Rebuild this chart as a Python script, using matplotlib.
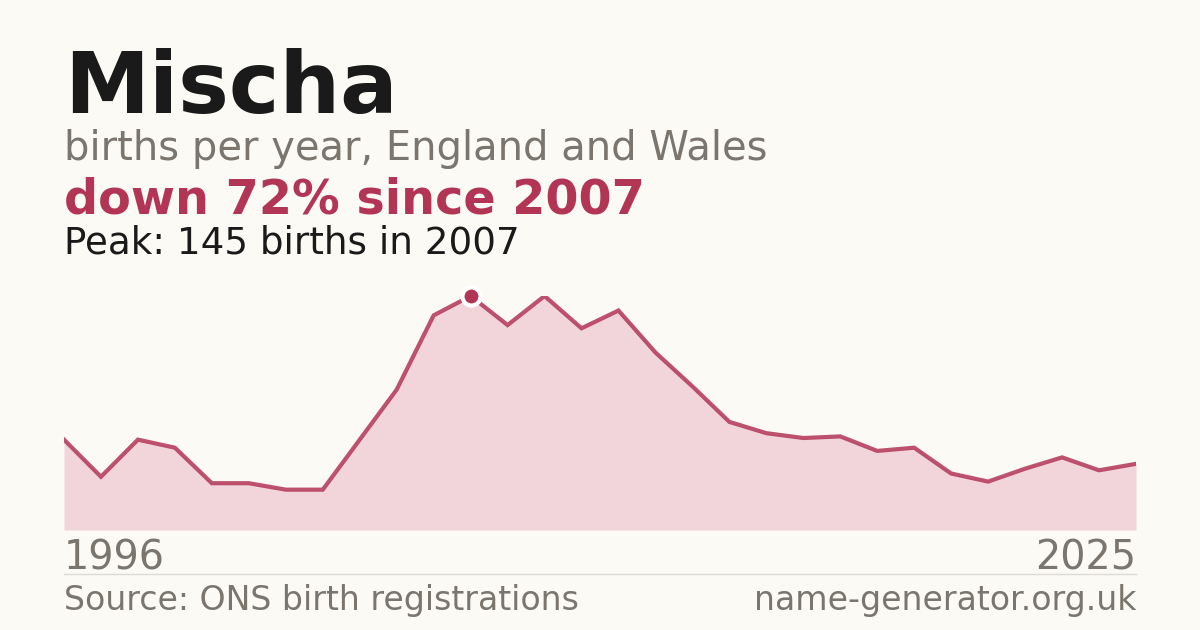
import matplotlib
matplotlib.use("Agg")
import matplotlib.pyplot as plt
import numpy as np

years = list(range(1996, 2026))
births = [56, 33, 56, 51, 29, 29, 25, 25, 56, 87, 133, 145, 127, 145, 125, 136,
          110, 89, 67, 60, 57, 58, 49, 51, 35, 30, 38, 45, 37, 41]

title = "Mischa"
subtitle = "births per year, England and Wales"
headline = "down 72% since 2007"
peak_text = "Peak: 145 births in 2007"
source = "Source: ONS birth registrations"
site = "name-generator.org.uk"

BG = "#fbfaf5"
RED = "#b33556"
FILL = "#f2d5da"
GREY = "#7a756d"
DARK = "#1a1a1a"

W, H = 1200, 630
fig = plt.figure(figsize=(12, 6.3), dpi=100, facecolor=BG)

def fx(px):
    return px / W

def fy(py):
    return 1 - py / H

ax = fig.add_axes([fx(64), fy(530), fx(1136) - fx(64), fy(296) - fy(530)])
ax.set_facecolor("none")
ax.fill_between(years, births, 0, color=FILL, lw=0)
ax.plot(years, births, color=RED, lw=3.0, solid_joinstyle="miter", alpha=0.85)
pk = int(np.argmax(births))
ax.plot([years[pk]], [births[pk]], "o", ms=13, color=RED, mec="white", mew=3, clip_on=False, zorder=5)
ax.set_xlim(years[0], years[-1])
ax.set_ylim(0, max(births))
ax.axis("off")

fig.text(fx(64), fy(113), title, fontsize=61.5, fontweight="bold", color=DARK, va="baseline", ha="left")
fig.text(fx(64), fy(160), subtitle, fontsize=28.8, color=GREY, va="baseline", ha="left")
fig.text(fx(64), fy(213), headline, fontsize=34.4, fontweight="bold", color=RED, va="baseline", ha="left")
fig.text(fx(64), fy(253), peak_text, fontsize=26.8, color=DARK, va="baseline", ha="left")

fig.text(fx(64), fy(569), str(years[0]), fontsize=28.6, color=GREY, va="baseline", ha="left")
fig.text(fx(1136), fy(569), str(years[-1]), fontsize=28.6, color=GREY, va="baseline", ha="right")

fig.add_artist(plt.Line2D([fx(64), fx(1136)], [fy(574), fy(574)], color="#dedbd3", lw=1))

fig.text(fx(64), fy(610), source, fontsize=23.9, color=GREY, va="baseline", ha="left")
fig.text(fx(1136), fy(610), site, fontsize=23.9, color=GREY, va="baseline", ha="right")

fig.savefig("out.png", dpi=100, facecolor=BG)
